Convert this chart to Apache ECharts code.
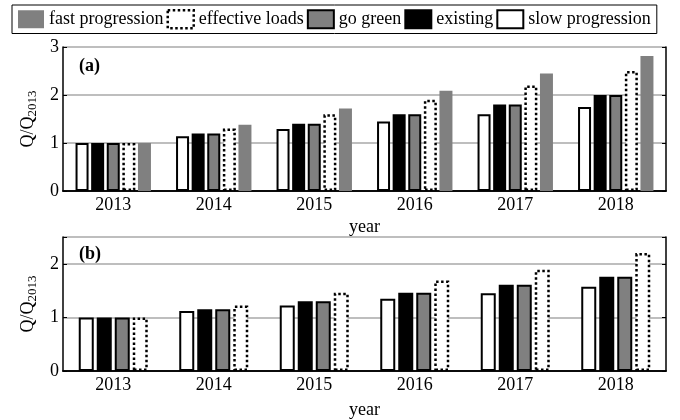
<!DOCTYPE html>
<html><head><meta charset="utf-8">
<script src="https://cdn.jsdelivr.net/npm/echarts@6/dist/echarts.min.js"></script>
<style>html,body{margin:0;padding:0;background:#fff}#c{width:680px;height:420px}</style>
</head><body><div id="c"></div>
<script>
// ---- data ----
const years = ['2013', '2014', '2015', '2016', '2017', '2018'];
const legendOrder = ['fast progression', 'effective loads', 'go green', 'existing', 'slow progression'];
// panel (a)
const slowA      = [1.00, 1.14, 1.29, 1.45, 1.60, 1.75];
const existingA  = [1.00, 1.20, 1.40, 1.60, 1.80, 2.00];
const goGreenA   = [1.00, 1.20, 1.40, 1.60, 1.80, 2.00];
const effectiveA = [1.00, 1.30, 1.60, 1.90, 2.20, 2.50];
const fastA      = [1.00, 1.38, 1.72, 2.09, 2.45, 2.81];
// panel (b)
const slowB      = [1.00, 1.12, 1.22, 1.35, 1.45, 1.57];
const existingB  = [1.00, 1.15, 1.30, 1.46, 1.61, 1.76];
const goGreenB   = [1.00, 1.15, 1.30, 1.46, 1.61, 1.76];
const effectiveB = [1.00, 1.22, 1.46, 1.69, 1.89, 2.20];
const yMaxA = 3, yMaxB = 2.5;

// ---- styles ----
const FF = 'Liberation Serif';
const GRAY = '#808080';
const styles = {
  'slow progression': {color: '#ffffff', borderColor: '#000', borderWidth: 2, borderType: 'solid'},
  'existing': {color: '#000000', borderColor: '#000', borderWidth: 2, borderType: 'solid'},
  'go green': {color: GRAY, borderColor: '#000', borderWidth: 2, borderType: 'solid'},
  'effective loads': {color: '#ffffff', borderColor: '#000', borderWidth: 2.5, borderType: 'dotted'},
  'fast progression': {color: GRAY, borderColor: GRAY, borderWidth: 0, borderType: 'solid'}
};
const txt = {fontFamily: FF, fontSize: 18, color: '#000'};

function xAxes(gridIndex) {
  return [{
    type: 'category', gridIndex, data: years, position: 'bottom',
    axisLine: {lineStyle: {color: '#000', width: 1.5}},
    axisTick: {inside: true, alignWithLabel: true, length: 4, lineStyle: {color: '#000'}},
    axisLabel: Object.assign({margin: 5}, txt),
    name: 'year', nameLocation: 'middle', nameGap: gridIndex === 0 ? 27 : 30,
    nameTextStyle: txt
  }, {
    type: 'category', gridIndex, data: years, position: 'top',
    axisLine: {lineStyle: {color: '#000', width: 1.5}},
    axisTick: {inside: true, alignWithLabel: true, length: 4, lineStyle: {color: '#000'}},
    axisLabel: {show: false}
  }];
}
function yAxes(gridIndex, max) {
  return [{
    type: 'value', gridIndex, min: 0, max, interval: 1, position: 'left',
    axisLine: {show: true, lineStyle: {color: '#000', width: 1.5}},
    axisTick: {show: true, inside: true, length: 4, lineStyle: {color: '#000'}},
    axisLabel: Object.assign({margin: 4,
      formatter: v => (Math.abs(v - Math.round(v)) > 1e-6 ? '' : String(v))}, txt),
    splitLine: {show: true, lineStyle: {color: '#a8a8a8', width: 1.5}},
    name: '{a|Q/Q}{b|2013}', nameLocation: 'middle', nameGap: 22,
    nameTextStyle: {color: '#000', fontFamily: FF, rich: {
      a: {fontFamily: FF, fontSize: 18, color: '#000'},
      b: {fontFamily: FF, fontSize: 13, color: '#000', verticalAlign: 'bottom', padding: [9, 0, 0, 0]}
    }}
  }, {
    type: 'value', gridIndex, min: 0, max, interval: 1, position: 'right',
    axisLine: {show: true, lineStyle: {color: '#000', width: 1.5}},
    axisTick: {show: true, inside: true, length: 4, lineStyle: {color: '#000'}},
    axisLabel: {show: false}, splitLine: {show: false}
  }];
}

function bar(name, data, xi, yi, w) {
  return {
    type: 'bar', name, data, xAxisIndex: xi, yAxisIndex: yi,
    barWidth: w, barGap: '20%', itemStyle: styles[name],
    emphasis: {disabled: true}, silent: true
  };
}

const series = [
  bar('slow progression', slowA, 0, 0, 13),
  bar('existing', existingA, 0, 0, 13),
  bar('go green', goGreenA, 0, 0, 13),
  bar('effective loads', effectiveA, 0, 0, 13),
  bar('fast progression', fastA, 0, 0, 13),
  bar('slow progression', slowB, 2, 2, 15),
  bar('existing', existingB, 2, 2, 15),
  bar('go green', goGreenB, 2, 2, 15),
  bar('effective loads', effectiveB, 2, 2, 15)
];

const legendData = legendOrder.map(n => ({
  name: n, icon: 'rect',
  itemStyle: Object.assign({}, styles[n])
}));

const chart = echarts.init(document.getElementById('c'), null, {renderer: 'canvas'});
chart.setOption({
  animation: false,
  backgroundColor: '#fff',
  textStyle: {fontFamily: FF},
  title: [
    {text: '(a)', left: 74, top: 52, textStyle: Object.assign({}, txt, {fontWeight: 'bold'})},
    {text: '(b)', left: 74, top: 240, textStyle: Object.assign({}, txt, {fontWeight: 'bold'})}
  ],
  legend: {
    data: legendData, left: 12, top: 5, icon: 'rect', itemWidth: 26, itemHeight: 18, itemGap: 3,
    padding: [4, 6], borderColor: '#000', borderWidth: 1,
    textStyle: {fontFamily: FF, fontSize: 18, color: '#000'}
  },
  grid: [
    {left: 63, right: 14, top: 47, height: 144},
    {left: 63, right: 14, top: 237, height: 142}
  ],
  xAxis: [...xAxes(0), ...xAxes(1)],
  yAxis: [...yAxes(0, yMaxA), ...yAxes(1, yMaxB)],
  series
});
</script></body></html>
